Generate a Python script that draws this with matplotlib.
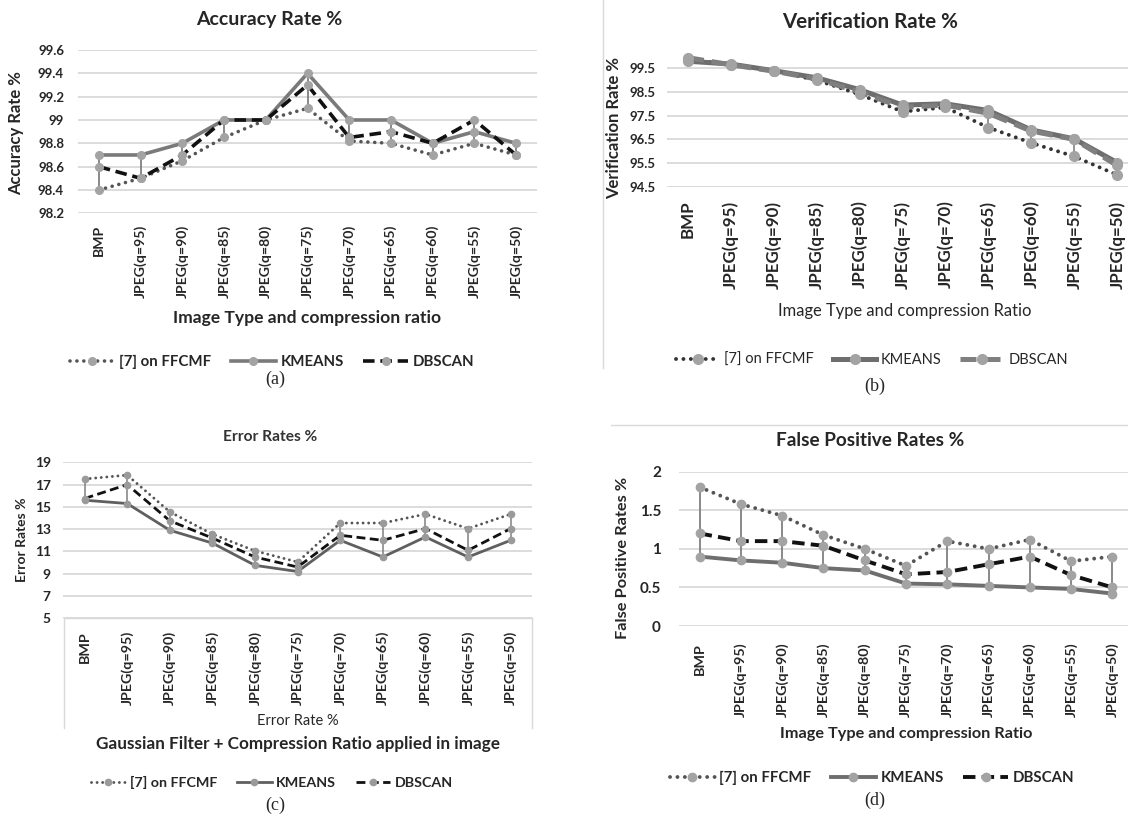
import matplotlib
matplotlib.use('Agg')
import matplotlib.pyplot as plt
from matplotlib.lines import Line2D
import numpy as np

plt.rcParams['font.family'] = ['Lato', 'DejaVu Sans']

W, H = 1128, 818

categories = ['BMP', 'JPEG(q=95)', 'JPEG(q=90)', 'JPEG(q=85)', 'JPEG(q=80)', 'JPEG(q=75)',
              'JPEG(q=70)', 'JPEG(q=65)', 'JPEG(q=60)', 'JPEG(q=55)', 'JPEG(q=50)']
series_names = ['[7] on FFCMF', 'KMEANS', 'DBSCAN']

acc_ffcmf = [98.4, 98.5, 98.65, 98.85, 99.0, 99.1, 98.82, 98.8, 98.7, 98.8, 98.7]
acc_kmeans = [98.7, 98.7, 98.8, 99.0, 99.0, 99.4, 99.0, 99.0, 98.8, 98.9, 98.8]
acc_dbscan = [98.6, 98.5, 98.7, 99.0, 99.0, 99.3, 98.85, 98.9, 98.8, 99.0, 98.7]

ver_ffcmf = [99.9, 99.65, 99.4, 99.0, 98.4, 97.67, 97.85, 97.0, 96.35, 95.78, 95.0]
ver_kmeans = [99.8, 99.68, 99.4, 99.1, 98.6, 97.95, 98.0, 97.72, 96.9, 96.52, 95.52]
ver_dbscan = [99.95, 99.65, 99.38, 99.05, 98.5, 97.85, 97.95, 97.6, 96.85, 96.5, 95.4]

err_ffcmf = [17.5, 17.85, 14.55, 12.55, 11.05, 10.05, 13.55, 13.55, 14.35, 13.05, 14.35]
err_kmeans = [15.6, 15.3, 12.9, 11.75, 9.75, 9.2, 12.0, 10.5, 12.3, 10.5, 12.0]
err_dbscan = [15.75, 17.0, 13.75, 12.2, 10.5, 9.6, 12.45, 12.0, 13.05, 11.1, 13.05]

fp_ffcmf = [1.8, 1.58, 1.43, 1.18, 1.0, 0.78, 1.1, 1.0, 1.12, 0.84, 0.9]
fp_kmeans = [0.9, 0.85, 0.82, 0.75, 0.72, 0.55, 0.54, 0.52, 0.5, 0.48, 0.42]
fp_dbscan = [1.2, 1.1, 1.1, 1.04, 0.85, 0.67, 0.7, 0.8, 0.9, 0.66, 0.5]

fig = plt.figure(figsize=(W / 100, H / 100), dpi=100)
TXT = '#262626'


def fx(x):
    return x / W


def fy(y):
    return 1 - y / H


def px_axes(left, top, right, bottom):
    return fig.add_axes([left / W, 1 - bottom / H, (right - left) / W, (bottom - top) / H])


def ftext(x, y, s, **kw):
    kw.setdefault('ha', 'center')
    kw.setdefault('va', 'center')
    kw.setdefault('color', TXT)
    fig.text(fx(x), fy(y), s, **kw)


def hline(x0, x1, y, color='#d9d9d9', lw=1.0):
    fig.add_artist(Line2D([fx(x0), fx(x1)], [fy(y), fy(y)], color=color, lw=lw))


def vline(x, y0, y1, color='#d9d9d9', lw=1.0):
    fig.add_artist(Line2D([fx(x), fx(x)], [fy(y0), fy(y1)], color=color, lw=lw))


def panel(box, data, ylim, yticks, ylabels, st):
    ax = px_axes(*box)
    x = np.arange(len(categories))
    ax.set_xlim(-0.5, len(categories) - 0.5)
    ax.set_ylim(*ylim)
    for s in ax.spines.values():
        s.set_visible(False)
    ax.set_yticks(yticks)
    ax.set_yticklabels(ylabels, fontsize=st['ytick_fs'], fontweight='bold', color=TXT)
    ax.set_xticks(x)
    ax.set_xticklabels(categories, rotation=90, fontsize=st['xtick_fs'],
                       fontweight='bold', color=TXT, va='top', ha='center')
    ax.tick_params(axis='both', length=0)
    ax.tick_params(axis='y', pad=st['ypad'])
    ax.tick_params(axis='x', pad=st['xpad'])
    ax.grid(axis='y', color='#d9d9d9', lw=1.3)
    ax.set_axisbelow(True)
    arr = np.array(data)
    ax.vlines(x, arr.min(axis=0), arr.max(axis=0), color='#808080', lw=st['hl_lw'], zorder=2)
    for i, vals in enumerate(data):
        ax.plot(x, vals, **st['lines'][i], marker='o', ms=st['ms'], mfc=st['mc'], mec=st['mc'],
                zorder=3 + i, clip_on=False)
    handles = [Line2D([], [], **st['lines'][i], marker='o', ms=st['ms'], mfc=st['mc'], mec=st['mc'])
               for i in range(3)]
    return ax, handles


def make_lines(dot_c, sol_c, dash_c, lw_dot, lw_sol, lw_dash):
    return [
        dict(color=dot_c, lw=lw_dot, ls=(0, (0.01, 1.9)), dash_capstyle='round'),
        dict(color=sol_c, lw=lw_sol, ls='-'),
        dict(color=dash_c, lw=lw_dash, ls=(0, (3.2, 1.6))),
    ]


def add_legend(handles, cx, cy, fs, fw, hl=3.0, cs=1.3):
    leg = fig.legend(handles, series_names, loc='center', bbox_to_anchor=(fx(cx), fy(cy)),
                     ncol=3, frameon=False, handlelength=hl, columnspacing=cs,
                     handletextpad=0.3, prop={'size': fs, 'weight': fw})
    for t in leg.get_texts():
        t.set_color(TXT)
    return leg


# ---------------- (a) ----------------
st_a = dict(ytick_fs=9.5, xtick_fs=10.1, ypad=10, xpad=8, hl_lw=1.3, ms=5.5, mc='#a3a3a3',
            lines=make_lines('#555555', '#7a7a7a', '#111111', 2.6, 2.6, 2.6))
ticks_a = [98.2, 98.4, 98.6, 98.8, 99.0, 99.2, 99.4, 99.6]
ax_a, h_a = panel((78, 50, 537, 213.3), [acc_ffcmf, acc_kmeans, acc_dbscan], (98.2, 99.6), ticks_a,
                  [f'{v:g}' for v in ticks_a], st_a)
ftext(269, 19, 'Accuracy Rate %', fontsize=14, fontweight='bold')
ftext(16, 133, 'Accuracy Rate %', fontsize=12, fontweight='bold', rotation=90)
ftext(307, 318, 'Image Type and compression ratio', fontsize=12.6, fontweight='bold')
add_legend(h_a, 272, 361.7, 10.8, 'bold')
ftext(275, 379, '(a)', fontsize=13, family='Liberation Serif')

# ---------------- (b) ----------------
st_b = dict(ytick_fs=9.5, xtick_fs=12.2, ypad=8, xpad=10, hl_lw=1.2, ms=7, mc='#a3a3a3',
            lines=make_lines('#333333', '#6e6e6e', '#7f7f7f', 2.8, 3.6, 3.6))
ticks_b = [94.5, 95.5, 96.5, 97.5, 98.5, 99.5]
ax_b, h_b = panel((666.5, 56.5, 1138.5, 186.7), [ver_ffcmf, ver_kmeans, ver_dbscan], (94.5, 100.0), ticks_b,
                  [f'{v:g}' for v in ticks_b], st_b)
ftext(870, 21.7, 'Verification Rate %', fontsize=14.8, fontweight='bold')
ftext(614, 128, 'Verification Rate %', fontsize=12, fontweight='bold', rotation=90)
ftext(905, 311, 'Image Type and compression Ratio', fontsize=11.9)
add_legend(h_b, 872, 360, 10.5, 'normal')
ftext(875, 386.7, '(b)', fontsize=13, family='Liberation Serif')
vline(603, 0, 368)

# ---------------- (c) ----------------
st_c = dict(ytick_fs=10, xtick_fs=10.3, ypad=9, xpad=9, hl_lw=1.1, ms=4.5, mc='#9a9a9a',
            lines=make_lines('#555555', '#5f5f5f', '#111111', 2.1, 2.0, 2.0))
ticks_c = [5, 7, 9, 11, 13, 15, 17, 19]
ax_c, h_c = panel((63.3, 462.3, 532, 618.3), [err_ffcmf, err_kmeans, err_dbscan], (5, 19), ticks_c,
                  [str(v) for v in ticks_c], st_c)
ftext(270, 436.7, 'Error Rates %', fontsize=11.2, fontweight='bold', color='#333333')
ftext(22, 540, 'Error Rates %', fontsize=10, fontweight='bold', rotation=90)
ftext(298, 720.7, 'Error Rate %', fontsize=10.5)
ftext(298, 744.3, 'Gaussian Filter + Compression Ratio applied in image', fontsize=12.3, fontweight='bold')
add_legend(h_c, 272, 782.3, 10.3, 'bold', hl=2.4, cs=1.4)
ftext(275, 805, '(c)', fontsize=13, family='Liberation Serif')
hline(64, 532, 618.3)
vline(64, 618.3, 728)
vline(532, 618.3, 728)

# ---------------- (d) ----------------
st_d = dict(ytick_fs=11, xtick_fs=10.4, ypad=13, xpad=12, hl_lw=1.3, ms=6, mc='#a3a3a3',
            lines=make_lines('#555555', '#6e6e6e', '#111111', 2.8, 2.8, 2.8))
ticks_d = [0, 0.5, 1.0, 1.5, 2.0]
ax_d, h_d = panel((679, 471.7, 1133, 626), [fp_ffcmf, fp_kmeans, fp_dbscan], (0, 2), ticks_d,
                  [f'{v:g}' for v in ticks_d], st_d)
ftext(870, 440, 'False Positive Rates %', fontsize=13.7, fontweight='bold')
ftext(623, 558, 'False Positive Rates %', fontsize=11.8, fontweight='bold', rotation=90)
ftext(906, 734, 'Image Type and compression Ratio', fontsize=11.7, fontweight='bold')
add_legend(h_d, 872, 778, 10.8, 'bold')
ftext(875, 800, '(d)', fontsize=13, family='Liberation Serif')
hline(611, 1128, 425)

fig.savefig('out.png', dpi=100, facecolor='white')
